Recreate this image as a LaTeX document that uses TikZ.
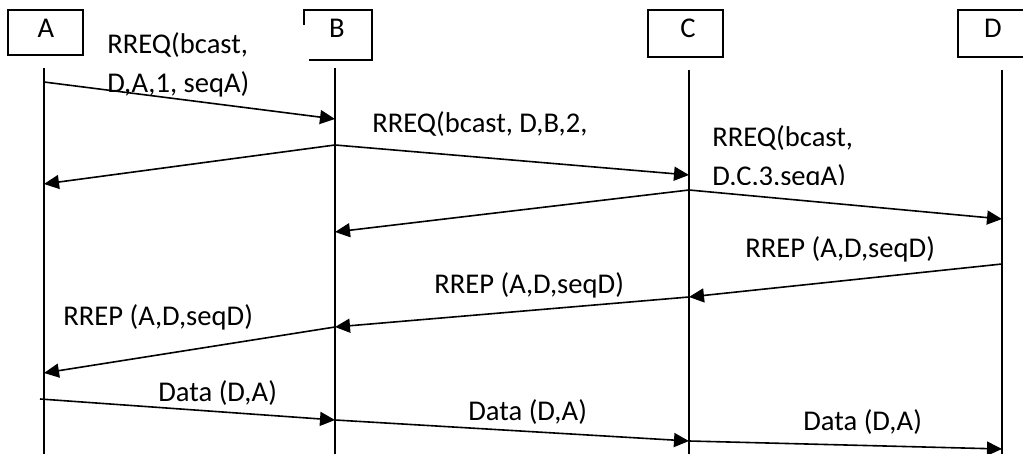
\documentclass[tikz,border=0pt]{standalone}
\usepackage{fontspec}
\setmainfont{Carlito}
\usetikzlibrary{arrows.meta}
\begin{document}
\begin{tikzpicture}[x=0.5pt,y=-0.5pt,
  lifeline/.style={line width=1pt},
  boxline/.style={line width=1.35pt},
  msg/.style={line width=0.8pt,-{Triangle[length=7.5pt,width=7pt]}},
  lbl/.style={anchor=base west,inner sep=0pt,font=\fontsize{14.3}{17}\selectfont},
  actor/.style={anchor=base,inner sep=0pt,font=\fontsize{14.3}{17}\selectfont}]
\clip (0,0) rectangle (1023,454);
\fill[white] (0,0) rectangle (1023,454);

% participant boxes
\draw[boxline] (8,10) rectangle (83,55);
\draw[boxline] (304,25) -- (304,10) -- (372,10) -- (372,60) -- (309,60);
\draw[boxline] (648,10) rectangle (723,57);
\draw[boxline] (1035,10) -- (958,10) -- (958,57) -- (1035,57);
\node[actor] (A) at (46,38) {A};
\node[actor] (B) at (337,38) {B};
\node[actor] (C) at (688,38) {C};
\node[actor] (D) at (993,38) {D};

% lifelines
\draw[lifeline] (44,68) -- (44,454);
\draw[lifeline] (335,68) -- (335,454);
\draw[lifeline] (689,70) -- (689,454);
\draw[lifeline] (1002,70) -- (1002,454);

% message end points on the lifelines
\coordinate (a1) at (44,82);   \coordinate (b1) at (335,119);
\coordinate (b2) at (335,145); \coordinate (a2) at (44,184);
\coordinate (c2) at (689,175);
\coordinate (c3) at (689,190); \coordinate (b3) at (335,232);
\coordinate (d3) at (1002,219);
\coordinate (d4) at (1002,264); \coordinate (c4) at (689,297);
\coordinate (b4) at (335,327); \coordinate (a4) at (44,373);
\coordinate (a5) at (40,399);  \coordinate (b5) at (335,420);
\coordinate (c5) at (689,441); \coordinate (d5) at (1002,449);

% route request flood
\draw[msg] (a1) -- (b1);
\draw[msg] (b2) -- (a2);
\draw[msg] (b2) -- (c2);
\draw[msg] (c3) -- (b3);
\draw[msg] (c3) -- (d3);
% route reply
\draw[msg] (d4) -- (c4);
\draw[msg] (c4) -- (b4);
\draw[msg] (b4) -- (a4);
% data forwarding
\draw[msg] (a5) -- (b5);
\draw[msg] (b5) -- (c5);
\draw[msg] (c5) -- (d5);

% message labels
\node[lbl] (l1a) at (107,54) {RREQ(bcast,};
\node[lbl] (l1b) at (107,93) {D,A,1, seqA)};
\node[lbl] (l2) at (372,133) {RREQ(bcast, D,B,2,};
\node[lbl] (l3a) at (712,147) {RREQ(bcast,};
% second line of this label is cut off at its text frame
\begin{scope}
  \clip (700,150) rectangle (900,185);
  \node[lbl] (l3b) at (712,185.5) {D,C,3,seqA)};
\end{scope}
\node[lbl] (l4) at (745,258) {RREP (A,D,seqD)};
\node[lbl] (l5) at (434,293) {RREP (A,D,seqD)};
\node[lbl] (l6) at (63,326) {RREP (A,D,seqD)};
\node[lbl] (l7) at (158,401) {Data (D,A)};
\node[lbl] (l8) at (468,420) {Data (D,A)};
\node[lbl] (l9) at (803,430) {Data (D,A)};
\end{tikzpicture}
\end{document}
